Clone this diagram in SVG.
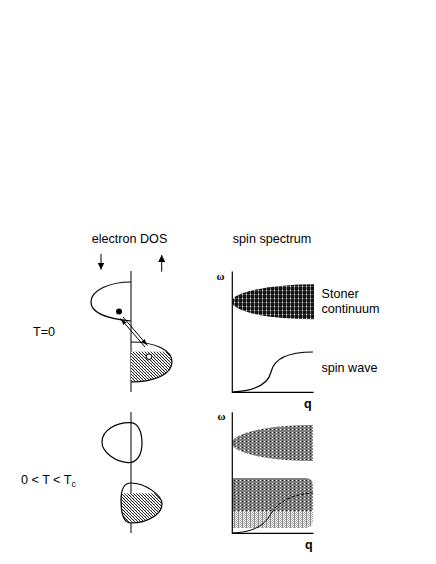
<svg xmlns="http://www.w3.org/2000/svg" width="436" height="564" viewBox="0 0 436 564">
<defs>
<style>
text { font-family: "Liberation Sans", Arial, sans-serif; font-size: 12.6px; fill: #000; }
.ax { stroke: #000; stroke-width: 1.2; fill: none; }
.ln { stroke: #000; stroke-width: 1; fill: none; }
.lobe { stroke: #000; stroke-width: 1.2; fill: none; }
.om { font-family: "Liberation Serif", "Times New Roman", serif; font-weight: bold; font-size: 11px; }
.q { font-weight: bold; font-size: 12.5px; }
</style>
<pattern id="hatch" width="3" height="3" patternUnits="userSpaceOnUse">
<rect width="3" height="3" fill="#fff"/>
<rect x="0" y="0" width="1" height="1" fill="#222"/>
<rect x="1" y="1" width="1" height="1" fill="#222"/>
<rect x="2" y="2" width="1" height="1" fill="#222"/>
<rect x="1" y="0" width="1" height="1" fill="#bbb"/>
</pattern>
<pattern id="stoner" width="4" height="4" patternUnits="userSpaceOnUse">
<rect width="4" height="4" fill="#111"/>
<rect x="2" y="0" width="1" height="4" fill="#777"/>
<rect x="0" y="2" width="4" height="1" fill="#444"/>
<rect x="2" y="2" width="1" height="1" fill="#ddd"/>
</pattern>
<pattern id="dots" width="4" height="3" patternUnits="userSpaceOnUse">
<rect width="4" height="3" fill="#808080"/>
<rect x="0" y="0" width="1" height="1" fill="#fff"/>
<rect x="2" y="0" width="1" height="1" fill="#222"/>
</pattern>
<pattern id="light" width="4" height="2" patternUnits="userSpaceOnUse">
<rect width="4" height="2" fill="#fff"/>
<rect x="0" y="0" width="1" height="1" fill="#999"/>
<rect x="1" y="1" width="1" height="1" fill="#aaa"/>
<rect x="2" y="0" width="1" height="2" fill="#888"/>
<rect x="3" y="1" width="1" height="1" fill="#bbb"/>
</pattern>
<clipPath id="cLobe1">
<path d="M131,342 C155,342 172,350 172,362 C172,374 155,382 131,382 Z"/>
</clipPath>
<clipPath id="cLobe2">
<path d="M131,483 C145,483 162,495 162,504 C162,514 148,523 131,523 C124,523 121,515 121,500 C121,490 124,483 131,483 Z"/>
</clipPath>
<clipPath id="cBox">
<path d="M232,478 H305 Q313,478 313,486 V520 Q313,528 305,528 H232 Z"/>
</clipPath>
<marker id="ah" markerWidth="7" markerHeight="7" refX="7" refY="3.5" orient="auto" markerUnits="userSpaceOnUse">
<path d="M0,0 L7,3.5 L0,7 Z" fill="#000"/>
</marker>
<marker id="ahs" markerWidth="7" markerHeight="4" refX="7" refY="2" orient="auto" markerUnits="userSpaceOnUse">
<path d="M0,0 L7,2 L0,4 Z" fill="#000"/>
</marker>
</defs>
<rect width="436" height="564" fill="#fff"/>

<g id="headers">
<text x="129.5" y="243" text-anchor="middle">electron DOS</text>
<text x="272" y="243" text-anchor="middle">spin spectrum</text>
</g>

<g id="label-T0">
<text x="33" y="336">T=0</text>
</g>
<g id="label-Tc">
<text x="21" y="484">0 &lt; T &lt; T<tspan font-size="9" dy="3">c</tspan></text>
</g>

<g id="dos-T0">
<line class="ln" x1="131" y1="271" x2="131" y2="392"/>
<path class="lobe" d="M131,282 C110,282 91,290 91,302 C91,313 108,319 131,321"/>
<rect x="131" y="351.7" width="42" height="31" fill="url(#hatch)" clip-path="url(#cLobe1)"/>
<path class="lobe" d="M131,342 C155,342 172,350 172,362 C172,374 155,382 131,382"/>
<circle cx="119" cy="311.5" r="3" fill="#000"/>
<circle cx="149" cy="356.7" r="2.8" fill="#fff" stroke="#000" stroke-width="1"/>
</g>

<g id="dos-Tc">
<line class="ln" x1="131" y1="412" x2="131" y2="533"/>
<path class="lobe" d="M131,422.7 C138,423 142,432 142,443 C142,455 137,463 128,462.7 C115,462 102,452 102,442 C102,430 117,422 131,422.7 Z"/>
<rect x="120" y="493.3" width="43" height="31" fill="url(#hatch)" clip-path="url(#cLobe2)"/>
<path class="lobe" d="M131,483 C145,483 162,495 162,504 C162,514 148,523 131,523 C124,523 121,515 121,500 C121,490 124,483 131,483 Z"/>
</g>

<g id="spectrum-T0">
<path d="M314,284.3 A82,17.5 0 0 0 314,319.3 Z" fill="url(#stoner)"/>
<path class="ax" d="M232.3,271.5 V392.4 H313.5"/>
<text class="om" x="216.5" y="280">ω</text>
<text class="q" x="304" y="408">q</text>
<path class="lobe" d="M232,392 C255,391 268,385 271,372 C274,358 290,352 313,352"/>
<text x="321.5" y="298">Stoner</text>
<text x="321.5" y="313">continuum</text>
<text x="321.5" y="372">spin wave</text>
</g>

<g id="spectrum-Tc">
<path d="M313,425 A81,18 0 0 0 313,461 Z" fill="url(#dots)"/>
<g clip-path="url(#cBox)">
<rect x="232" y="478" width="82" height="33" fill="url(#dots)"/>
<rect x="232" y="511" width="82" height="18" fill="url(#light)"/>
</g>
<path class="ax" d="M232.3,412.3 V533.3 H313.5"/>
<text class="om" x="217.5" y="419.5">ω</text>
<text class="q" x="305" y="549">q</text>
<path class="ln" d="M232,533 C255,532 265,525 272,512"/>
<path class="ln" stroke-dasharray="3,2" d="M272,512 C280,500 295,494 313,493"/>
</g>

<g id="connectors">
<line class="ln" x1="101" y1="254" x2="101" y2="269.5" marker-end="url(#ah)"/>
<line class="ln" x1="161.7" y1="271.7" x2="161.7" y2="255" marker-end="url(#ah)"/>
<line class="ln" x1="145" y1="347" x2="120.5" y2="318.5" marker-end="url(#ahs)"/>
<line class="ln" x1="123" y1="317" x2="147.5" y2="345.5" marker-end="url(#ahs)"/>
</g>
</svg>
